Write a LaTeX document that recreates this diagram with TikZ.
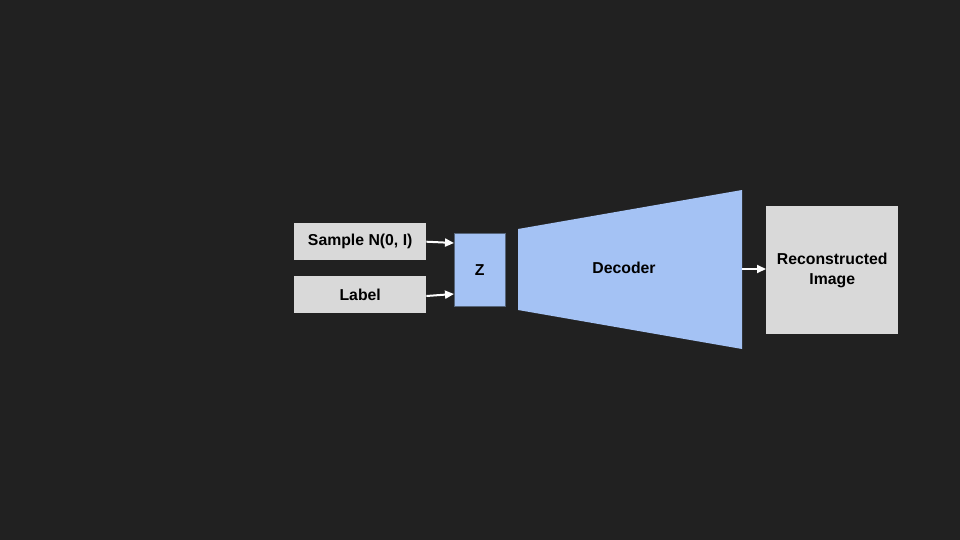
\documentclass[tikz,border=0pt]{standalone}
\usepackage{fontspec}
\setmainfont{Liberation Sans}
\usetikzlibrary{arrows.meta}
\definecolor{bg}{HTML}{212121}
\definecolor{boxgray}{HTML}{D9D9D9}
\definecolor{blueish}{HTML}{A4C2F4}
\definecolor{zedge}{HTML}{56657A}
\tikzset{
  graybox/.style={fill=boxgray, draw=none, inner sep=0pt, anchor=north west, font=\bfseries\fontsize{15.8}{20}\selectfont, text=black, align=center},
  arr/.style={draw=white, line width=2pt, -{Triangle[length=9pt,width=8pt]}},
  lbl/.style={font=\bfseries\fontsize{15.8}{20}\selectfont, text=black, align=center}
}
\begin{document}
\begin{tikzpicture}[x=1pt,y=-1pt]
\fill[bg] (0,0) rectangle (960,540);
\useasboundingbox (0,0) rectangle (960,540);
\node[graybox, minimum width=132pt, minimum height=37pt] (sample) at (294,223) {Sample N(0, I)};
\node[graybox, minimum width=132pt, minimum height=37pt] (label) at (294,276) {Label};
\node[graybox, fill=blueish, draw=zedge, line width=0.5pt, minimum width=51pt, minimum height=73pt] (z) at (454,233) {Z};
\coordinate (d1) at (518,229);
\coordinate (d2) at (742,190);
\coordinate (d3) at (742,349);
\coordinate (d4) at (518,310);
\fill[blueish] (d1) -- (d2) -- (d3) -- (d4) -- cycle;
\node[lbl] (dec) at (624,268) {Decoder};
\node[graybox, minimum width=132pt, minimum height=128pt] (rec) at (766,206) {Reconstructed\\Image};
\coordinate (decout) at (742,269);
\draw[arr] (sample.east) -- (z.west |- 0,243);
\draw[arr] (label.east |- 0,296) -- (z.west |- 0,294);
\draw[arr] (decout) -- (rec.west |- decout);
\end{tikzpicture}
\end{document}
